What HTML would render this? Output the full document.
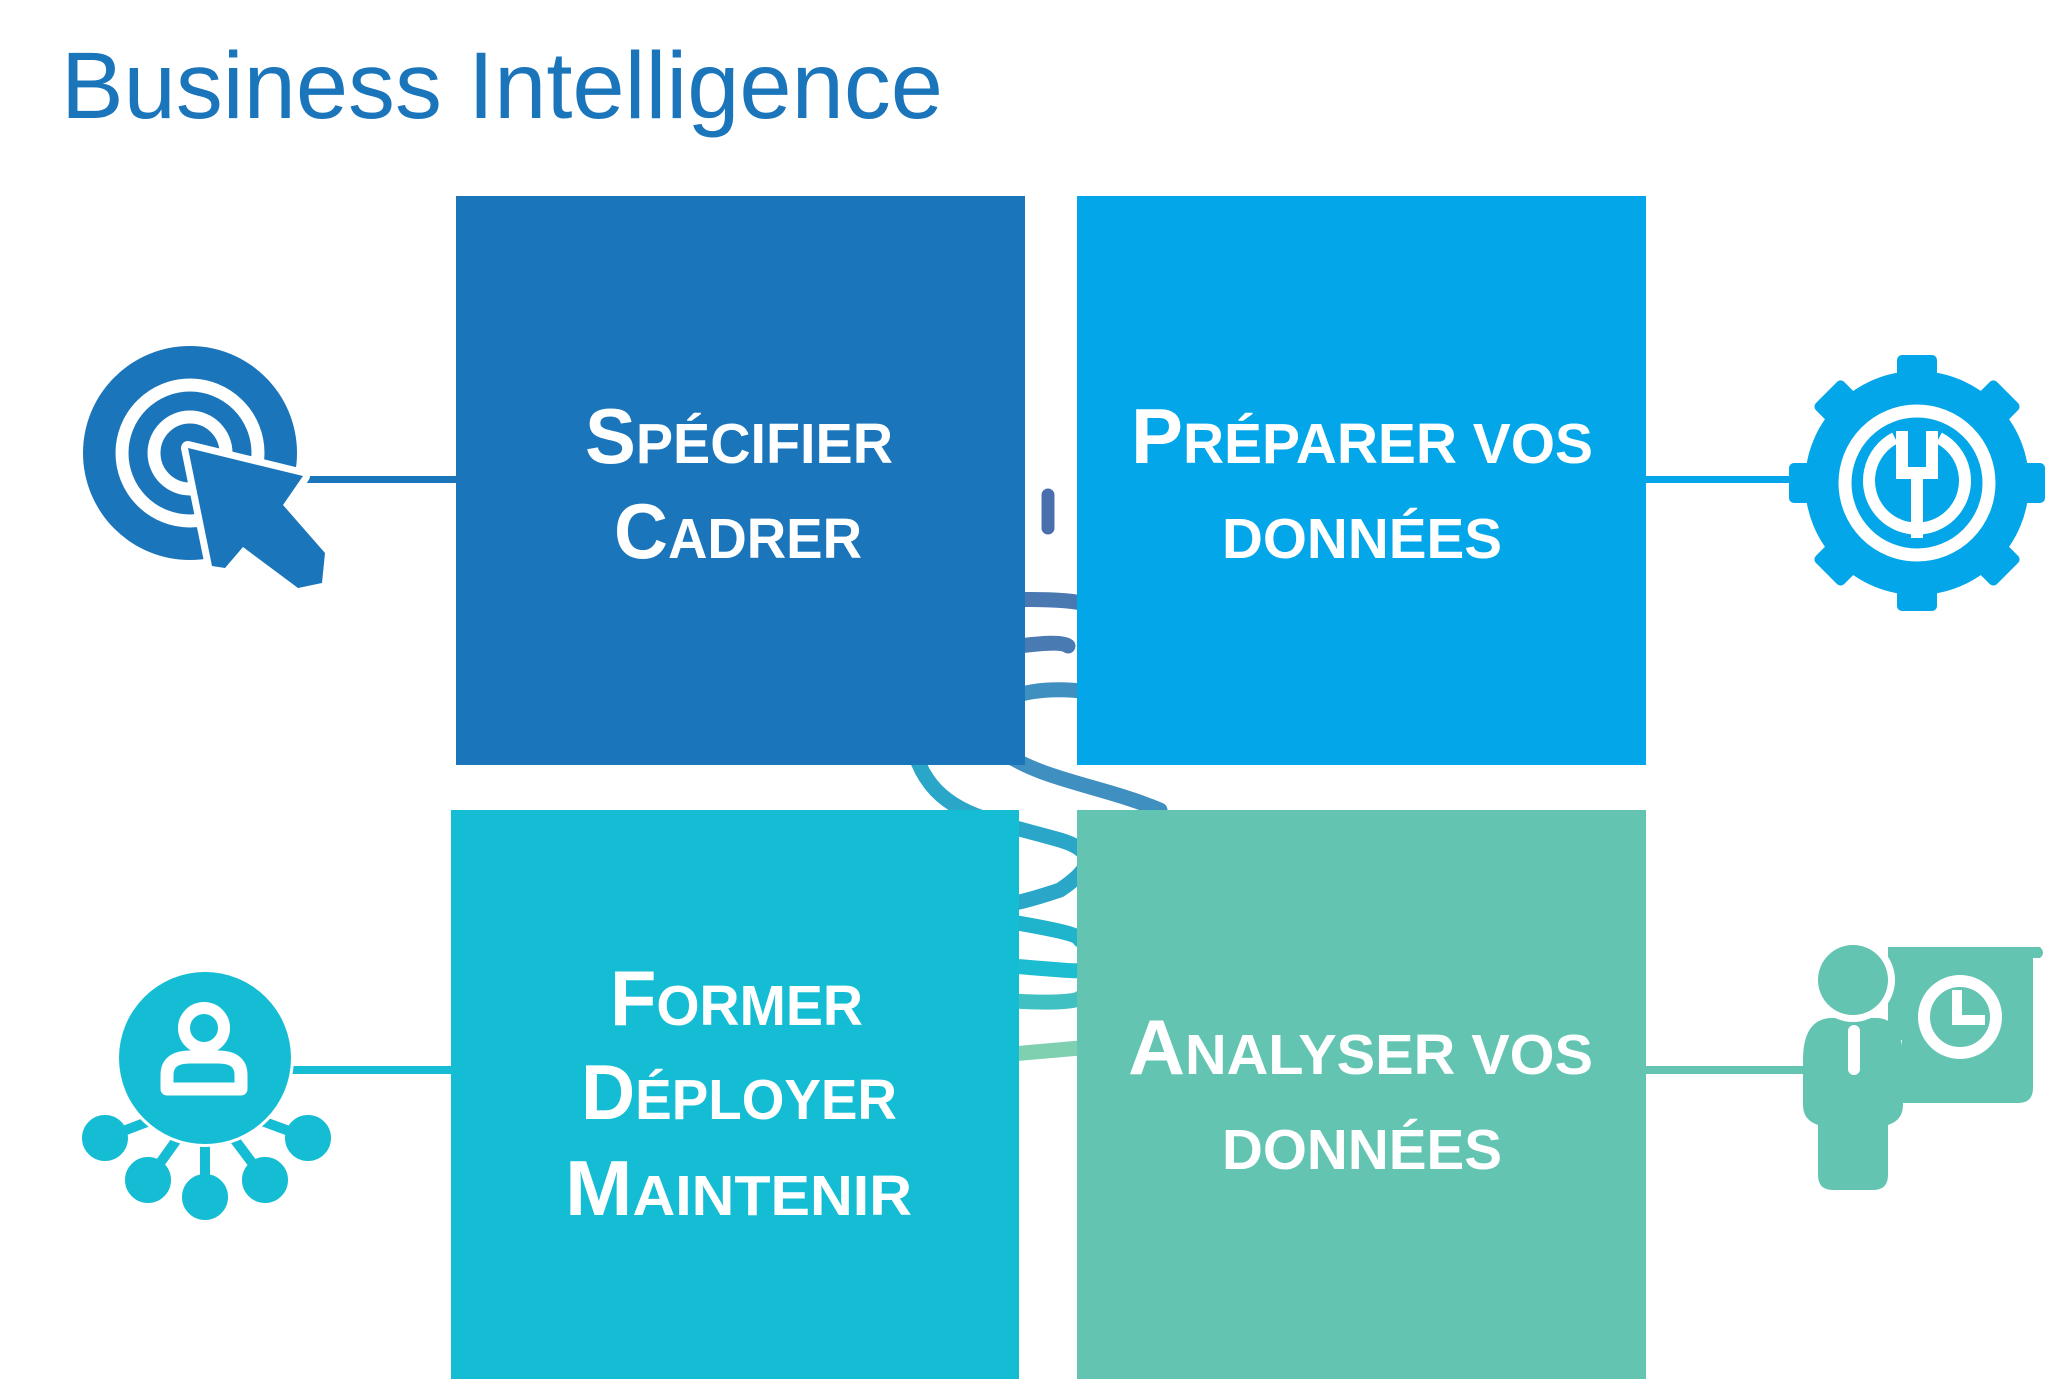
<!DOCTYPE html>
<html><head><meta charset="utf-8"><style>
html,body{margin:0;padding:0;background:#fff;}
svg{display:block;}
text{font-family:"Liberation Sans",sans-serif;font-weight:bold;fill:#fff;}
</style></head><body>
<svg width="2048" height="1379" viewBox="0 0 2048 1379" xmlns="http://www.w3.org/2000/svg">
<rect width="2048" height="1379" fill="#fff"/>
<text x="61" y="118" textLength="882" lengthAdjust="spacingAndGlyphs" style="font-weight:normal;font-size:95px;fill:#1b75bb">Business Intelligence</text>

<!-- swirl -->
<g fill="none" stroke-width="15" stroke-linecap="round">
<path d="M1048 495 L1048 528" stroke="#4a6fae" stroke-width="13"/>
<path d="M1000 600 C1060 598 1080 602 1090 605" stroke="#4a78b0"/>
<path d="M1000 648 C1030 645 1060 640 1068 646" stroke="#4a7ab2"/>
<path d="M1090 692 C1000 680 960 720 1000 750 C1040 780 1100 785 1160 810" stroke="#3f8fc0"/>
<path d="M918 762 C940 815 990 820 1060 840 C1100 852 1090 870 1060 890 C1030 900 1010 905 1000 905" stroke="#2aa7c8"/>
<path d="M1000 920 C1060 930 1080 935 1080 940" stroke="#1fb4cc"/>
<path d="M1000 965 C1060 970 1080 972 1080 970" stroke="#1cbdd0"/>
<path d="M1000 1000 C1060 1005 1080 1000 1080 998" stroke="#40c0c0"/>
<path d="M1000 1055 L1080 1048" stroke="#7fd0b0"/>
</g>

<rect x="456" y="196" width="569" height="569" fill="#1b75bb"/>
<rect x="1077" y="196" width="569" height="569" fill="#03a6e9"/>
<rect x="451" y="810" width="568" height="569" fill="#14bdd3"/>
<rect x="1077" y="810" width="569" height="569" fill="#63c4b2"/>

<!-- connectors -->
<rect x="300" y="476" width="156" height="7" fill="#1b75bb"/>
<rect x="1646" y="476" width="160" height="7" fill="#03a6e9"/>
<rect x="290" y="1066" width="161" height="8" fill="#14bdd3"/>
<rect x="1646" y="1066" width="160" height="8" fill="#63c4b2"/>

<!-- texts -->
<text x="585" y="463" textLength="308" lengthAdjust="spacingAndGlyphs"><tspan font-size="78">S</tspan><tspan font-size="57">PÉCIFIER</tspan></text>
<text x="614" y="558" textLength="248" lengthAdjust="spacingAndGlyphs"><tspan font-size="78">C</tspan><tspan font-size="57">ADRER</tspan></text>
<text x="1131" y="463" textLength="462" lengthAdjust="spacingAndGlyphs"><tspan font-size="78">P</tspan><tspan font-size="57">RÉPARER VOS</tspan></text>
<text x="1222" y="558" textLength="280" lengthAdjust="spacingAndGlyphs" font-size="57">DONNÉES</text>
<text x="610" y="1025" textLength="253" lengthAdjust="spacingAndGlyphs"><tspan font-size="78">F</tspan><tspan font-size="57">ORMER</tspan></text>
<text x="581" y="1119" textLength="316" lengthAdjust="spacingAndGlyphs"><tspan font-size="78">D</tspan><tspan font-size="57">ÉPLOYER</tspan></text>
<text x="565" y="1215" textLength="347" lengthAdjust="spacingAndGlyphs"><tspan font-size="78">M</tspan><tspan font-size="57">AINTENIR</tspan></text>
<text x="1128" y="1074" textLength="465" lengthAdjust="spacingAndGlyphs"><tspan font-size="78">A</tspan><tspan font-size="57">NALYSER VOS</tspan></text>
<text x="1222" y="1169" textLength="280" lengthAdjust="spacingAndGlyphs" font-size="57">DONNÉES</text>

<!-- target icon -->
<circle cx="190" cy="453" r="107" fill="#1b75bb"/>
<circle cx="190" cy="453" r="68" fill="none" stroke="#fff" stroke-width="13"/>
<circle cx="190" cy="453" r="36" fill="none" stroke="#fff" stroke-width="13"/>
<polygon points="188,448 303,476 283,505 325,553 322,583 298,588 243,547 225,568 212,566" fill="#1b75bb" stroke="#fff" stroke-width="14" stroke-linejoin="round"/>
<polygon points="188,448 303,476 283,505 325,553 322,583 298,588 243,547 225,568 212,566" fill="#1b75bb"/>

<!-- gear icon -->
<g transform="translate(1917,483)" fill="#03a6e9">
<circle r="112"/>
<g id="t"><rect x="-20" y="-128" width="40" height="40" rx="5"/></g>
<use href="#t" transform="rotate(45)"/><use href="#t" transform="rotate(90)"/><use href="#t" transform="rotate(135)"/>
<use href="#t" transform="rotate(180)"/><use href="#t" transform="rotate(225)"/><use href="#t" transform="rotate(270)"/><use href="#t" transform="rotate(315)"/>
<circle r="72" fill="none" stroke="#fff" stroke-width="13"/>
<path d="M-22 -45 A48 48 0 1 0 22 -45" fill="none" stroke="#fff" stroke-width="12"/>
<path d="M-15 -52 L-15 -10 L15 -10 L15 -52 M0 -10 L0 55" fill="none" stroke="#fff" stroke-width="12"/>
</g>

<!-- network icon -->
<g fill="#14bdd3" stroke="#14bdd3" stroke-width="10">
<line x1="205" y1="1100" x2="105" y2="1138"/><line x1="205" y1="1100" x2="148" y2="1180"/>
<line x1="205" y1="1100" x2="205" y2="1197"/><line x1="205" y1="1100" x2="265" y2="1180"/>
<line x1="205" y1="1100" x2="308" y2="1138"/>
<circle cx="105" cy="1138" r="18"/><circle cx="148" cy="1180" r="18"/><circle cx="205" cy="1197" r="18"/><circle cx="265" cy="1180" r="18"/><circle cx="308" cy="1138" r="18"/>
</g>
<circle cx="205" cy="1058" r="86" fill="#14bdd3" stroke="#fff" stroke-width="6"/>
<circle cx="205" cy="1058" r="86" fill="#14bdd3"/>
<circle cx="204" cy="1028" r="20" fill="none" stroke="#fff" stroke-width="12"/>
<path d="M167 1089 L167 1075 Q167 1057 190 1057 L218 1057 Q241 1057 241 1075 L241 1089 Z" fill="none" stroke="#fff" stroke-width="13" stroke-linejoin="round"/>

<!-- presenter icon -->
<g fill="#63c4b2">
<path d="M1888 947 L2040 947 Q2046 953 2040 958 L2033 958 L2033 1088 Q2033 1103 2018 1103 L1888 1103 Z"/>
<circle cx="1960" cy="1017" r="36" fill="none" stroke="#fff" stroke-width="12"/>
<path d="M1957 990 L1957 1020 L1985 1020" fill="none" stroke="#fff" stroke-width="10"/>
<rect x="1880" y="1040" width="22" height="70" fill="#fff"/>
<path d="M1803 1060 Q1803 1020 1830 1018 L1878 1018 Q1903 1020 1903 1060 L1903 1105 Q1903 1120 1888 1125 L1888 1175 Q1888 1190 1873 1190 L1833 1190 Q1818 1190 1818 1175 L1818 1125 Q1803 1120 1803 1105 Z"/>
<rect x="1848" y="1025" width="12" height="50" rx="6" fill="#fff"/>
<circle cx="1853" cy="980" r="42" fill="#fff"/>
<circle cx="1853" cy="980" r="35"/>
</g>
</svg>
</body></html>
